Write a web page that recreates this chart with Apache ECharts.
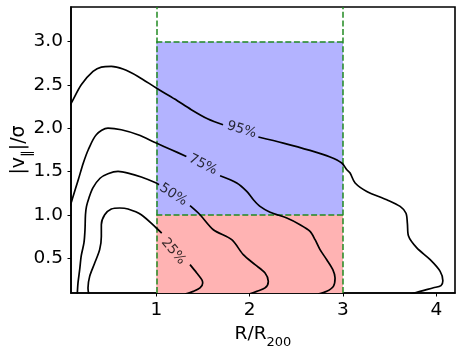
<!DOCTYPE html>
<html><head><meta charset="utf-8">
<script src="https://cdn.jsdelivr.net/npm/echarts@6/dist/echarts.min.js"></script>
<style>html,body{margin:0;padding:0;background:#fff}#c{width:463px;height:351px}</style>
</head><body><div id="c"></div>
<script>
// axis extents and ticks
const xRange = [0.086, 4.2];
const yRange = [0.1, 3.4];
const xTicks = [1, 2, 3, 4];
const yTicks = [0.5, 1.0, 1.5, 2.0, 2.5, 3.0];

// shaded regions [x0,x1] / [y0,y1]
const regionX = [1, 3];
const blueY = [1, 3];
const redY = [0.1, 1];

// contour lines (split where the inline label sits)
const c95a = [[0.06,2.25],[0.089,2.292],[0.196,2.503],[0.322,2.656],[0.411,2.707],[0.518,2.714],[0.643,2.684],[0.804,2.599],[1.0,2.465],[1.197,2.338],[1.375,2.215],[1.554,2.107],[1.715,2.042]];
const c95b = [[2.093,1.900],[2.361,1.830],[2.647,1.745],[2.862,1.669],[2.987,1.600],[3.041,1.522],[3.076,1.484],[3.130,1.369],[3.255,1.272],[3.469,1.176],[3.612,1.099],[3.675,1.02],[3.690,0.90],[3.701,0.76],[3.791,0.620],[3.934,0.485],[4.041,0.35],[4.070,0.24],[4.050,0.185],[3.969,0.160],[3.826,0.119],[3.72,0.085]];
const c75a = [[0.075,1.10],[0.093,1.160],[0.110,1.22],[0.164,1.407],[0.218,1.600],[0.271,1.753],[0.357,1.926],[0.482,2.003],[0.625,1.984],[0.804,1.926],[1.0,1.830],[1.161,1.753],[1.322,1.676]];
const c75b = [[1.683,1.453],[1.862,1.369],[1.969,1.272],[2.040,1.176],[2.111,1.099],[2.219,1.032],[2.398,0.965],[2.540,0.888],[2.647,0.811],[2.701,0.715],[2.754,0.600],[2.826,0.484],[2.891,0.369],[2.915,0.273],[2.897,0.176],[2.826,0.119],[2.733,0.087]];
const c50a = [[0.153,0.08],[0.161,0.216],[0.179,0.369],[0.196,0.531],[0.225,0.681],[0.236,0.830],[0.241,1.003],[0.252,1.099],[0.279,1.200],[0.322,1.315],[0.397,1.424],[0.482,1.476],[0.590,1.503],[0.697,1.484],[0.839,1.438],[1.0,1.369],[1.029,1.349]];
const c50b = [[1.361,1.107],[1.468,1.003],[1.611,0.830],[1.808,0.715],[1.932,0.542],[2.058,0.427],[2.165,0.331],[2.200,0.234],[2.165,0.158],[2.076,0.119],[1.994,0.087]];
const c25a = [[0.275,0.087],[0.268,0.158],[0.286,0.292],[0.340,0.446],[0.393,0.600],[0.411,0.753],[0.411,0.888],[0.447,1.003],[0.518,1.069],[0.608,1.081],[0.697,1.069],[0.839,1.003],[1.0,0.850],[1.058,0.792]];
const c25b = [[1.361,0.427],[1.433,0.331],[1.487,0.254],[1.497,0.216],[1.468,0.158],[1.397,0.119],[1.308,0.087]];

// inline contour labels
const labelText = ['95%', '75%', '50%', '25%'];
const labelPos = [[1.915,1.984],[1.50,1.580],[1.182,1.234],[1.182,0.580]];
const labelRot = [-17, -27, -33, -50];

const chart = echarts.init(document.getElementById('c'), null, {renderer:'canvas'});
const green = '#228b22';
const lineSeries = [c95a,c95b,c75a,c75b,c50a,c50b,c25a,c25b].map(d => ({
  type:'line', data:d, smooth:0.3, showSymbol:false, clip:true, z:5,
  lineStyle:{color:'#000', width:1.7}, silent:true
}));
const dash = {color:green, width:1.5, type:[6,2.6]};
const option = {
  animation:false,
  grid:{left:71, right:8, top:7, bottom:58, outerBoundsMode:'none', containLabel:false, show:true, borderColor:'#000', borderWidth:1.6, backgroundColor:'transparent'},
  xAxis:{type:'value', min:xRange[0], max:xRange[1], nameMoveOverlap:false,
    axisLine:{show:true, onZero:false, lineStyle:{color:'#000', width:1.6}},
    axisTick:{show:true, inside:false, length:3.5, lineStyle:{color:'#000', width:1}, customValues:xTicks},
    axisLabel:{customValues:xTicks, color:'#000', fontSize:18.5, fontFamily:'DejaVu Sans', margin:8, formatter:v=>String(Math.round(v))},
    splitLine:{show:false},
    name:'R/R{sub|200}', nameLocation:'middle', nameGap:32,
    nameTextStyle:{color:'#000', fontSize:18.5, fontFamily:'DejaVu Sans',
      rich:{sub:{fontSize:13, fontFamily:'DejaVu Sans', color:'#000', verticalAlign:'bottom', lineHeight:12, padding:[0,0,-5,0]}}}
  },
  yAxis:{type:'value', min:yRange[0], max:yRange[1], nameMoveOverlap:false,
    axisLine:{show:true, onZero:false, lineStyle:{color:'#000', width:1.6}},
    axisTick:{show:true, inside:false, length:3.5, lineStyle:{color:'#000', width:1}, customValues:yTicks},
    axisLabel:{customValues:yTicks, color:'#000', fontSize:18.5, fontFamily:'DejaVu Sans', margin:8, formatter:v=>v.toFixed(1)},
    splitLine:{show:false},
    name:'|v{sub|∥}|/σ', nameLocation:'middle', nameGap:42,
    nameTextStyle:{color:'#000', fontSize:19, fontFamily:'DejaVu Sans',
      rich:{sub:{fontSize:13.5, fontFamily:'DejaVu Sans', color:'#000', verticalAlign:'bottom', lineHeight:12, padding:[0,0,-5,0]}}}
  },
  series:[
    {type:'line', data:[], silent:true, z:1,
      markArea:{silent:true, data:[
        [{coord:[regionX[0], blueY[0]], itemStyle:{color:'#b3b3ff'}}, {coord:[regionX[1], blueY[1]]}],
        [{coord:[regionX[0], redY[0]], itemStyle:{color:'#ffb3b3'}}, {coord:[regionX[1], redY[1]]}]
      ]}
    },
    {type:'line', data:[], silent:true, z:3,
      markLine:{silent:true, symbol:['none','none'], label:{show:false}, lineStyle:dash,
        data:[
          [{coord:[regionX[0], yRange[0]]},{coord:[regionX[0], yRange[1]]}],
          [{coord:[regionX[1], yRange[0]]},{coord:[regionX[1], yRange[1]]}],
          [{coord:[regionX[0], blueY[1]]},{coord:[regionX[1], blueY[1]]}],
          [{coord:[regionX[0], blueY[0]]},{coord:[regionX[1], blueY[0]]}]
        ]}
    },
    ...lineSeries,
    {type:'scatter', symbolSize:0, z:6, silent:true,
      data: labelPos.map((p,i)=>({value:p, name:labelText[i], label:{rotate:labelRot[i]}})),
      label:{show:true, position:'inside', formatter:p=>p.name, color:'#000', fontSize:13.5, fontFamily:'DejaVu Sans'}
    }
  ]
};
chart.setOption(option);
</script></body></html>
